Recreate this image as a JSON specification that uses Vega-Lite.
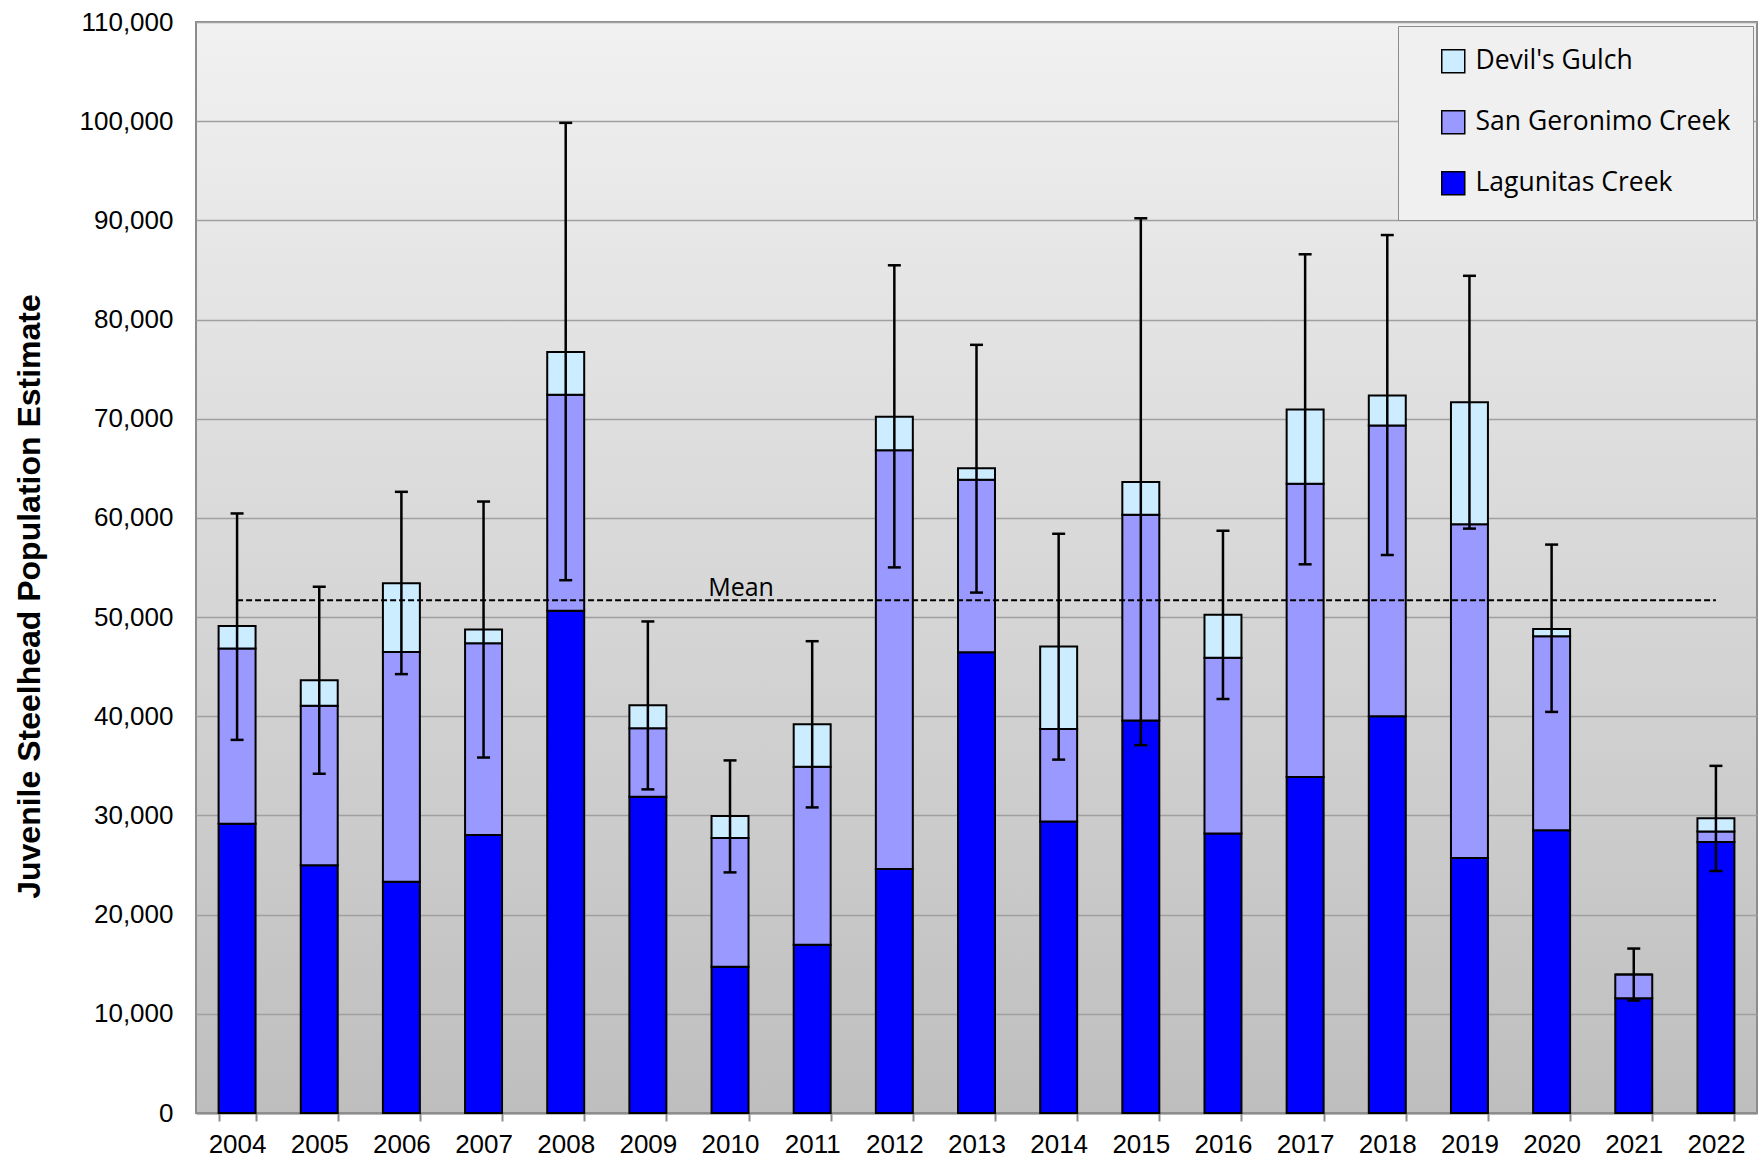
{
  "$schema": "https://vega.github.io/schema/vega-lite/v6.json",
  "autosize": {"type": "none"},
  "width": 1561,
  "height": 1091,
  "padding": {"left": 196, "top": 22, "right": 6, "bottom": 47},
  "background": "white",
  "config": {
    "view": {
      "stroke": "#8c8c8c",
      "strokeWidth": 2,
      "fill": {"gradient": "linear", "x1": 0, "y1": 0, "x2": 0, "y2": 1,
        "stops": [{"offset": 0, "color": "#f1f1f1"}, {"offset": 1, "color": "#bebebe"}]}
    },
    "axis": {"labelColor": "black", "labelFont": "Liberation Sans", "labelFontSize": 26}
  },
  "datasets": {
    "bars": [
      {"year": "2004", "site": "Lagunitas Creek", "ord": 1, "value": 29160},
      {"year": "2004", "site": "San Geronimo Creek", "ord": 2, "value": 17680},
      {"year": "2004", "site": "Devil's Gulch", "ord": 3, "value": 2250},
      {"year": "2005", "site": "Lagunitas Creek", "ord": 1, "value": 24970},
      {"year": "2005", "site": "San Geronimo Creek", "ord": 2, "value": 16090},
      {"year": "2005", "site": "Devil's Gulch", "ord": 3, "value": 2560},
      {"year": "2006", "site": "Lagunitas Creek", "ord": 1, "value": 23320},
      {"year": "2006", "site": "San Geronimo Creek", "ord": 2, "value": 23150},
      {"year": "2006", "site": "Devil's Gulch", "ord": 3, "value": 6950},
      {"year": "2007", "site": "Lagunitas Creek", "ord": 1, "value": 28020},
      {"year": "2007", "site": "San Geronimo Creek", "ord": 2, "value": 19330},
      {"year": "2007", "site": "Devil's Gulch", "ord": 3, "value": 1410},
      {"year": "2008", "site": "Lagunitas Creek", "ord": 1, "value": 50640},
      {"year": "2008", "site": "San Geronimo Creek", "ord": 2, "value": 21790},
      {"year": "2008", "site": "Devil's Gulch", "ord": 3, "value": 4290},
      {"year": "2009", "site": "Lagunitas Creek", "ord": 1, "value": 31880},
      {"year": "2009", "site": "San Geronimo Creek", "ord": 2, "value": 6900},
      {"year": "2009", "site": "Devil's Gulch", "ord": 3, "value": 2320},
      {"year": "2010", "site": "Lagunitas Creek", "ord": 1, "value": 14750},
      {"year": "2010", "site": "San Geronimo Creek", "ord": 2, "value": 12970},
      {"year": "2010", "site": "Devil's Gulch", "ord": 3, "value": 2220},
      {"year": "2011", "site": "Lagunitas Creek", "ord": 1, "value": 16970},
      {"year": "2011", "site": "San Geronimo Creek", "ord": 2, "value": 17950},
      {"year": "2011", "site": "Devil's Gulch", "ord": 3, "value": 4280},
      {"year": "2012", "site": "Lagunitas Creek", "ord": 1, "value": 24600},
      {"year": "2012", "site": "San Geronimo Creek", "ord": 2, "value": 42210},
      {"year": "2012", "site": "Devil's Gulch", "ord": 3, "value": 3390},
      {"year": "2013", "site": "Lagunitas Creek", "ord": 1, "value": 46450},
      {"year": "2013", "site": "San Geronimo Creek", "ord": 2, "value": 17390},
      {"year": "2013", "site": "Devil's Gulch", "ord": 3, "value": 1160},
      {"year": "2014", "site": "Lagunitas Creek", "ord": 1, "value": 29400},
      {"year": "2014", "site": "San Geronimo Creek", "ord": 2, "value": 9310},
      {"year": "2014", "site": "Devil's Gulch", "ord": 3, "value": 8320},
      {"year": "2015", "site": "Lagunitas Creek", "ord": 1, "value": 39570},
      {"year": "2015", "site": "San Geronimo Creek", "ord": 2, "value": 20760},
      {"year": "2015", "site": "Devil's Gulch", "ord": 3, "value": 3280},
      {"year": "2016", "site": "Lagunitas Creek", "ord": 1, "value": 28190},
      {"year": "2016", "site": "San Geronimo Creek", "ord": 2, "value": 17720},
      {"year": "2016", "site": "Devil's Gulch", "ord": 3, "value": 4320},
      {"year": "2017", "site": "Lagunitas Creek", "ord": 1, "value": 33870},
      {"year": "2017", "site": "San Geronimo Creek", "ord": 2, "value": 29580},
      {"year": "2017", "site": "Devil's Gulch", "ord": 3, "value": 7480},
      {"year": "2018", "site": "Lagunitas Creek", "ord": 1, "value": 40010},
      {"year": "2018", "site": "San Geronimo Creek", "ord": 2, "value": 29310},
      {"year": "2018", "site": "Devil's Gulch", "ord": 3, "value": 3020},
      {"year": "2019", "site": "Lagunitas Creek", "ord": 1, "value": 25700},
      {"year": "2019", "site": "San Geronimo Creek", "ord": 2, "value": 33660},
      {"year": "2019", "site": "Devil's Gulch", "ord": 3, "value": 12290},
      {"year": "2020", "site": "Lagunitas Creek", "ord": 1, "value": 28520},
      {"year": "2020", "site": "San Geronimo Creek", "ord": 2, "value": 19560},
      {"year": "2020", "site": "Devil's Gulch", "ord": 3, "value": 710},
      {"year": "2021", "site": "Lagunitas Creek", "ord": 1, "value": 11580},
      {"year": "2021", "site": "San Geronimo Creek", "ord": 2, "value": 2380},
      {"year": "2021", "site": "Devil's Gulch", "ord": 3, "value": 0},
      {"year": "2022", "site": "Lagunitas Creek", "ord": 1, "value": 27320},
      {"year": "2022", "site": "San Geronimo Creek", "ord": 2, "value": 1070},
      {"year": "2022", "site": "Devil's Gulch", "ord": 3, "value": 1340}
    ],
    "yearly": [
      {"year": "2004", "lo": 37620, "hi": 60450, "mean": 51700},
      {"year": "2005", "lo": 34200, "hi": 53050, "mean": 51700},
      {"year": "2006", "lo": 44250, "hi": 62630, "mean": 51700},
      {"year": "2007", "lo": 35840, "hi": 61650, "mean": 51700},
      {"year": "2008", "lo": 53720, "hi": 99830, "mean": 51700},
      {"year": "2009", "lo": 32630, "hi": 49560, "mean": 51700},
      {"year": "2010", "lo": 24260, "hi": 35550, "mean": 51700},
      {"year": "2011", "lo": 30810, "hi": 47570, "mean": 51700},
      {"year": "2012", "lo": 55010, "hi": 85470, "mean": 51700},
      {"year": "2013", "lo": 52470, "hi": 77450, "mean": 51700},
      {"year": "2014", "lo": 35630, "hi": 58400, "mean": 51700},
      {"year": "2015", "lo": 37090, "hi": 90210, "mean": 51700},
      {"year": "2016", "lo": 41750, "hi": 58710, "mean": 51700},
      {"year": "2017", "lo": 55320, "hi": 86580, "mean": 51700},
      {"year": "2018", "lo": 56260, "hi": 88520, "mean": 51700},
      {"year": "2019", "lo": 58920, "hi": 84410, "mean": 51700},
      {"year": "2020", "lo": 40440, "hi": 57310, "mean": 51700},
      {"year": "2021", "lo": 11340, "hi": 16580, "mean": 51700},
      {"year": "2022", "lo": 24400, "hi": 35000, "mean": 51700}
    ],
    "label": [{"year": "2010", "mean": 51700, "text": "Mean"}]
  },
  "encoding": {
    "x": {
      "field": "year", "type": "nominal",
      "scale": {"paddingInner": 0.55, "paddingOuter": 0.275},
      "axis": {
        "title": null, "labelAngle": 0, "tickBand": "extent",
        "domainColor": "#8c8c8c", "domainWidth": 2,
        "tickColor": "#8c8c8c", "tickWidth": 2, "tickSize": 8,
        "labelPadding": 10, "grid": false
      }
    }
  },
  "layer": [
    {
      "data": {"name": "bars"},
      "mark": {"type": "bar", "stroke": "black", "strokeWidth": 2, "strokeOpacity": 1},
      "encoding": {
        "y": {
          "field": "value", "type": "quantitative", "stack": "zero",
          "scale": {"domain": [0, 110000], "nice": false},
          "axis": {
            "title": "Juvenile Steelhead Population Estimate",
            "titleFont": "Liberation Sans", "titleFontSize": 32, "titleFontWeight": "bold",
            "titleColor": "black", "titlePadding": 33, "titleY": 574,
            "values": [0, 10000, 20000, 30000, 40000, 50000, 60000, 70000, 80000, 90000, 100000, 110000],
            "format": ",.0f", "domain": false, "ticks": false, "labelPadding": 23,
            "grid": true, "gridColor": "#a0a0a0", "gridWidth": 1.5
          }
        },
        "color": {
          "field": "site", "type": "nominal",
          "scale": {
            "domain": ["Devil's Gulch", "San Geronimo Creek", "Lagunitas Creek"],
            "range": ["#CCECFF", "#9999FF", "#0000FF"]
          },
          "legend": {
            "title": null, "orient": "top-right", "offset": 4,
            "fillColor": "#f0f0f0", "strokeColor": "#8c8c8c",
            "padding": 22, "rowPadding": 31,
            "symbolType": "square", "symbolSize": 529, "symbolStrokeColor": "black",
            "symbolStrokeWidth": 1.5, "symbolOpacity": 1, "symbolOffset": 20,
            "labelFont": "Open Sans", "labelFontSize": 26.5, "labelColor": "black",
            "labelOffset": 9, "labelLimit": 400,
            "labelExpr": "datum.label + '    '"
          }
        },
        "order": {"field": "ord", "type": "quantitative", "sort": "ascending"}
      }
    },
    {
      "data": {"name": "yearly"},
      "mark": {"type": "line", "color": "black", "strokeWidth": 2.2, "strokeDash": [6, 3]},
      "encoding": {"y": {"field": "mean", "type": "quantitative"}}
    },
    {
      "data": {"name": "yearly"},
      "mark": {"type": "rule", "color": "black", "strokeWidth": 2.5},
      "encoding": {
        "y": {"field": "lo", "type": "quantitative"},
        "y2": {"field": "hi"}
      }
    },
    {
      "data": {"name": "yearly"},
      "mark": {"type": "tick", "color": "black", "size": 13, "thickness": 2.5, "opacity": 1},
      "encoding": {"y": {"field": "lo", "type": "quantitative"}}
    },
    {
      "data": {"name": "yearly"},
      "mark": {"type": "tick", "color": "black", "size": 13, "thickness": 2.5, "opacity": 1},
      "encoding": {"y": {"field": "hi", "type": "quantitative"}}
    },
    {
      "data": {"name": "label"},
      "mark": {"type": "text", "font": "Open Sans", "fontSize": 25, "color": "black", "align": "center", "baseline": "alphabetic", "dx": 11, "dy": -4},
      "encoding": {
        "y": {"field": "mean", "type": "quantitative"},
        "text": {"field": "text"}
      }
    }
  ]
}
